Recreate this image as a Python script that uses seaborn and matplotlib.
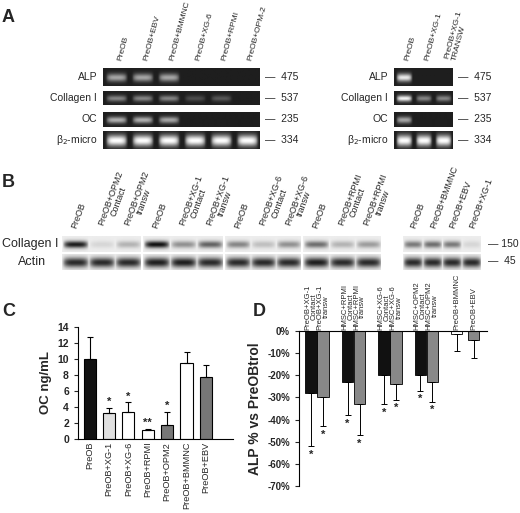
import numpy as np
import pandas as pd
import matplotlib
matplotlib.use("Agg")
import matplotlib.pyplot as plt
import seaborn as sns

sns.set_style("white")
plt.rcParams['font.family'] = ['Liberation Sans', 'DejaVu Sans']

# ---------------- data ----------------
a_left_lanes = ["PreOB", "PreOB+EBV", "PreOB+BMMNC", "PreOB+XG-6", "PreOB+RPMI", "PreOB+OPM-2"]
a_rows = ["ALP", "Collagen I", "OC", "β$_2$-micro"]
a_sizes = ["475", "537", "235", "334"]
a_left_alp = [0.6, 0.6, 0.6, 0.0, 0.0, 0.0]
a_left_col = [0.45, 0.45, 0.45, 0.2, 0.25, 0.0]
a_left_oc = [0.65, 0.65, 0.6, 0.0, 0.0, 0.0]
a_left_b2 = [1.0, 1.0, 1.0, 1.0, 1.0, 1.0]
a_right_lanes = ["PreOB", "PreOB+XG-1", "PreOB+XG-1\nTRANSW"]
a_right_alp = [0.9, 0.0, 0.0]
a_right_col = [0.95, 0.45, 0.45]
a_right_oc = [0.6, 0.0, 0.0]
a_right_b2 = [1.0, 1.0, 1.0]

b_lanes = [["PreOB", "PreOB+OPM2\nContact", "PreOB+OPM2\ntransw"],
           ["PreOB", "PreOB+XG-1\nContact", "PreOB+XG-1\ntransw"],
           ["PreOB", "PreOB+XG-6\nContact", "PreOB+XG-6\ntransw"],
           ["PreOB", "PreOB+RPMI\nContact", "PreOB+RPMI\ntransw"],
           ["PreOB", "PreOB+BMMNC", "PreOB+EBV", "PreOB+XG-1"]]
b_collagen = [[0.9, 0.1, 0.25], [0.95, 0.4, 0.6], [0.45, 0.2, 0.4],
              [0.55, 0.25, 0.35], [0.5, 0.55, 0.5, 0.1]]
b_actin = [[0.85, 0.85, 0.85], [0.9, 0.9, 0.85], [0.85, 0.85, 0.85],
           [0.9, 0.85, 0.85], [0.85, 0.85, 0.85, 0.85]]

c_labels = ["PreOB", "PreOB+XG-1", "PreOB+XG-6", "PreOB+RPMI", "PreOB+OPM2", "PreOB+BMMNC", "PreOB+EBV"]
c_values = [10.0, 3.3, 3.4, 1.1, 1.8, 9.5, 7.8]
c_errors = [2.7, 0.6, 1.2, 0.2, 1.6, 1.4, 1.5]
c_stars = ["", "*", "*", "**", "*", "", ""]
c_colors = ["#111111", "#e0e0e0", "#ffffff", "#ffffff", "#777777", "#ffffff", "#777777"]

d_labels = ["PreOB+XG-1\nContact", "PreOB+XG-1\ntransw", "HMSC+RPMI\nContact", "HMSC+RPMI\ntransw",
            "HMSC+XG-6\nContact", "HMSC+XG-6\ntransw", "HMSC+OPM2\nContact", "HMSC+OPM2\ntransw",
            "PreOB+BMMNC", "PreOB+EBV"]
d_values = [-28, -30, -23, -33, -20, -24, -20, -23, -1.5, -4]
d_errors = [24, 13, 15, 14, 13, 7, 7, 9, 7.5, 8]
d_stars = ["*", "*", "*", "*", "*", "*", "*", "*", "", ""]
d_colors = ["#111111", "#888888"] * 4 + ["#ffffff", "#888888"]
d_pos = [0, 1, 3, 4, 6, 7, 9, 10, 12, 13.4]

W, H = 520, 513
fig = plt.figure(figsize=(5.2, 5.13), dpi=100)

def ax_px(x0, y0, x1, y1):
    return fig.add_axes([x0 / W, 1 - y1 / H, (x1 - x0) / W, (y1 - y0) / H])

def gel(ax, intens, dark_bg=True, lane_w=20, h=16, sigma_y=2.5, wfrac=0.42):
    n = len(intens)
    img = np.zeros((h, n * lane_w))
    yy = np.arange(h)[:, None]
    prof_y = np.exp(-((yy - h / 2) ** 2) / (2 * sigma_y ** 2))
    for i, v in enumerate(intens):
        xx = np.arange(lane_w)
        prof_x = np.clip(1 - (np.abs(xx - lane_w / 2) / (lane_w * wfrac)) ** 4, 0, 1)
        img[:, i * lane_w:(i + 1) * lane_w] = v * prof_y * prof_x[None, :]
    if dark_bg:
        img = 0.12 + 0.88 * img
    else:
        img = 0.93 - 0.9 * img
    ax.imshow(img, cmap="gray", vmin=0, vmax=1, aspect="auto", interpolation="bilinear")
    ax.set_xticks([]); ax.set_yticks([])
    for s in ax.spines.values():
        s.set_visible(False)

fs = 7.5
# ---------------- Panel A ----------------
fig.text(2 / W, 1 - 18 / H, "A", fontsize=13, fontweight="bold", va="center")
left_rows = [a_left_alp, a_left_col, a_left_oc, a_left_b2]
right_rows = [a_right_alp, a_right_col, a_right_oc, a_right_b2]
row_y = [(68, 86), (91, 105), (112, 127), (131, 149)]
for r, (y0, y1) in enumerate(row_y):
    axg = ax_px(103, y0, 260, y1)
    gel(axg, left_rows[r], sigma_y=2.5 if r < 3 else 3.5)
    fig.text(97 / W, 1 - (y0 + y1) / 2 / H, a_rows[r], ha="right", va="center", fontsize=fs)
    fig.text(265 / W, 1 - (y0 + y1) / 2 / H, "—  " + a_sizes[r], ha="left", va="center", fontsize=fs)
    axg2 = ax_px(394, y0, 453, y1)
    gel(axg2, right_rows[r], sigma_y=2.5 if r < 3 else 3.5)
    fig.text(388 / W, 1 - (y0 + y1) / 2 / H, a_rows[r], ha="right", va="center", fontsize=fs)
    fig.text(458 / W, 1 - (y0 + y1) / 2 / H, "—  " + a_sizes[r], ha="left", va="center", fontsize=fs)
for i, lab in enumerate(a_left_lanes):
    fig.text((103 + 157 / 6 * (i + 0.5)) / W, 1 - 62 / H, lab, rotation=75, ha="left", va="bottom", fontsize=6)
for i, lab in enumerate(a_right_lanes):
    fig.text((394 + 59 / 3 * (i + 0.5)) / W, 1 - 62 / H, lab, rotation=75, ha="left", va="bottom", fontsize=6)

# ---------------- Panel B ----------------
fig.text(2 / W, 1 - 183 / H, "B", fontsize=13, fontweight="bold", va="center")
segs = [(62, 141), (143, 223), (225, 301), (303, 380), (403, 481)]
for k, (x0, x1) in enumerate(segs):
    a1 = ax_px(x0, 236, x1, 252)
    gel(a1, b_collagen[k], dark_bg=False, sigma_y=2.5, wfrac=0.5)
    a2 = ax_px(x0, 254, x1, 270)
    gel(a2, b_actin[k], dark_bg=False, sigma_y=3.5, wfrac=0.52)
    n = len(b_lanes[k])
    for i, lab in enumerate(b_lanes[k]):
        fig.text((x0 + (x1 - x0) / n * (i + 0.3)) / W, 1 - 230 / H, lab, rotation=70,
                 ha="left", va="bottom", fontsize=6.5, multialignment="center", linespacing=0.9)
fig.text(2 / W, 1 - 244 / H, "Collagen I", fontsize=9, va="center")
fig.text(18 / W, 1 - 262 / H, "Actin", fontsize=9, va="center")
fig.text(488 / W, 1 - 244 / H, "— 150", fontsize=7.5, va="center")
fig.text(488 / W, 1 - 261 / H, "—  45", fontsize=7.5, va="center")

# ---------------- Panel C ----------------
fig.text(2 / W, 1 - 312 / H, "C", fontsize=13, fontweight="bold", va="center")
axc = ax_px(78, 327, 233, 439)
dfc = pd.DataFrame({"label": c_labels, "value": c_values})
sns.barplot(data=dfc, x="label", y="value", hue="label", palette=dict(zip(c_labels, c_colors)),
            order=c_labels, legend=False, errorbar=None, edgecolor="black", linewidth=0.8,
            width=0.62, ax=axc)
axc.errorbar(range(len(c_labels)), c_values, yerr=[np.zeros(len(c_errors)), c_errors],
             fmt="none", ecolor="black", elinewidth=0.8, capsize=2.5, capthick=0.8)
for i, s in enumerate(c_stars):
    if s:
        axc.text(i, c_values[i] + c_errors[i] + 0.1, s, ha="center", va="bottom", fontsize=8, fontweight="bold")
axc.set_ylim(0, 14)
axc.set_xlim(-0.6, 7.4)
axc.set_yticks(range(0, 15, 2))
axc.tick_params(axis="y", labelsize=7.5, length=3, width=0.8, direction="out", left=True)
for t in axc.get_yticklabels():
    t.set_fontweight("bold")
axc.set_xticks(range(len(c_labels)))
axc.set_xticklabels(c_labels, rotation=90, fontsize=6.6)
axc.tick_params(axis="x", length=0, pad=2)
axc.set_xlabel("")
axc.set_ylabel("OC ng/mL", fontsize=9.5, fontweight="bold")
sns.despine(ax=axc)
for s in ["left", "bottom"]:
    axc.spines[s].set_linewidth(0.8)
    axc.spines[s].set_color("black")

# ---------------- Panel D ----------------
fig.text(253 / W, 1 - 312 / H, "D", fontsize=13, fontweight="bold", va="center")
axd = ax_px(299, 331, 487, 486)
dfd = pd.DataFrame({"label": d_labels, "value": d_values, "pos": d_pos})
sns.barplot(data=dfd, x="pos", y="value", hue="label", palette=dict(zip(d_labels, d_colors)),
            native_scale=True, legend=False, errorbar=None, edgecolor="black", linewidth=0.6,
            width=0.95, ax=axd)
axd.errorbar(d_pos, d_values, yerr=[d_errors, np.zeros(len(d_errors))],
             fmt="none", ecolor="black", elinewidth=0.7, capsize=2.5, capthick=0.7)
for x, v, e, s in zip(d_pos, d_values, d_errors, d_stars):
    if s:
        axd.text(x, v - e - 1.5, s, ha="center", va="top", fontsize=8, fontweight="bold")
axd.set_ylim(-70, 0)
axd.set_xlim(-1.0, 14.5)
axd.set_yticks(range(-70, 1, 10))
axd.set_yticklabels([f"{v}%" for v in range(-70, 1, 10)], fontsize=7, fontweight="bold")
axd.tick_params(axis="y", length=3, width=0.8, left=True)
axd.xaxis.tick_top()
axd.set_xticks(d_pos)
axd.set_xticklabels(d_labels, rotation=90, fontsize=5.5, linespacing=0.85)
axd.tick_params(axis="x", length=0, pad=1)
axd.set_xlabel("")
axd.set_ylabel("ALP % vs PreOBtrol", fontsize=10, fontweight="bold")
sns.despine(ax=axd, top=False, bottom=True, right=True)
for s in ["left", "top"]:
    axd.spines[s].set_linewidth(0.8)
    axd.spines[s].set_color("black")

fig.savefig("out.png", dpi=100)
